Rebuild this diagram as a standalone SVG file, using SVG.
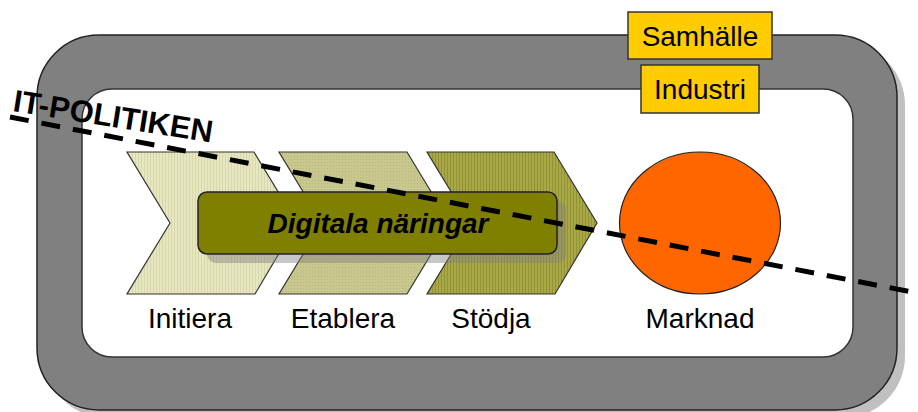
<svg xmlns="http://www.w3.org/2000/svg" width="918" height="412" viewBox="0 0 918 412">
<style>
text{font-family:"Liberation Sans",Arial,sans-serif;fill:#000}
.lbl{font-size:28px;text-anchor:middle}
.chev{stroke:#333;stroke-width:1.2}
.tag{fill:#FFCC00;stroke:#333;stroke-width:1.5}
</style>
<defs>
<pattern id="p1" width="3" height="3" patternUnits="userSpaceOnUse"><rect width="3" height="3" fill="#E6E6C2"/><rect width="1" height="3" fill="#D8D8A8"/></pattern>
<pattern id="p2" width="3" height="3" patternUnits="userSpaceOnUse"><rect width="3" height="3" fill="#C8C88E"/><rect width="1" height="1" fill="#B8B87A"/></pattern>
<pattern id="p3" width="3" height="3" patternUnits="userSpaceOnUse"><rect width="3" height="3" fill="#A8A84A"/><rect width="1" height="3" fill="#94942E"/></pattern>
</defs>
<g id="frame">
<rect x="45" y="43" width="860" height="375" rx="62" fill="#C0C0C0"/>
<rect x="37" y="35" width="860" height="375" rx="62" fill="#808080" stroke="#222" stroke-width="1.5"/>
<rect x="82" y="89" width="771" height="268" rx="30" fill="#fff" stroke="#333" stroke-width="1.5"/>
</g>
<g id="initiera">
<polygon class="chev" fill="url(#p1)" points="127,152 254,152 297,223 255,294 127,294 170,223"/>
<text class="lbl" x="190" y="328">Initiera</text>
</g>
<g id="etablera">
<polygon class="chev" fill="url(#p2)" points="279,152 407,152 450,223 407,294 279,294 322,223"/>
<text class="lbl" x="343" y="328">Etablera</text>
</g>
<g id="stodja">
<polygon class="chev" fill="url(#p3)" points="427,152 554,152 597,223 555,294 427,294 470,223"/>
<text class="lbl" x="491" y="328">Stödja</text>
</g>
<g id="digitala">
<rect x="207" y="201" width="359" height="62" rx="9" fill="#808080" opacity="0.45"/>
<rect x="198" y="192" width="359" height="62" rx="9" fill="#808000" stroke="#222" stroke-width="1.5"/>
<text x="378" y="233" style="font-size:28px;font-weight:bold;font-style:italic;text-anchor:middle">Digitala näringar</text>
</g>
<g id="marknad">
<ellipse cx="700" cy="223" rx="80.5" ry="71" fill="#FF6600" stroke="#222" stroke-width="1.2"/>
<text class="lbl" x="700" y="328">Marknad</text>
</g>
<g id="samhalle">
<rect class="tag" x="628" y="12" width="144" height="47"/>
<text class="lbl" x="700" y="46">Samhälle</text>
</g>
<g id="industri">
<rect class="tag" x="641" y="65" width="118" height="48"/>
<text class="lbl" x="700" y="99">Industri</text>
</g>
<g id="connectors">
<line x1="10" y1="117" x2="912" y2="292" stroke="#000" stroke-width="5" stroke-dasharray="19 13"/>
</g>
<g id="itpolitiken">
<text x="0" y="0" transform="translate(12,111) rotate(9)" style="font-size:31px;font-weight:bold">IT-POLITIKEN</text>
</g>
</svg>
